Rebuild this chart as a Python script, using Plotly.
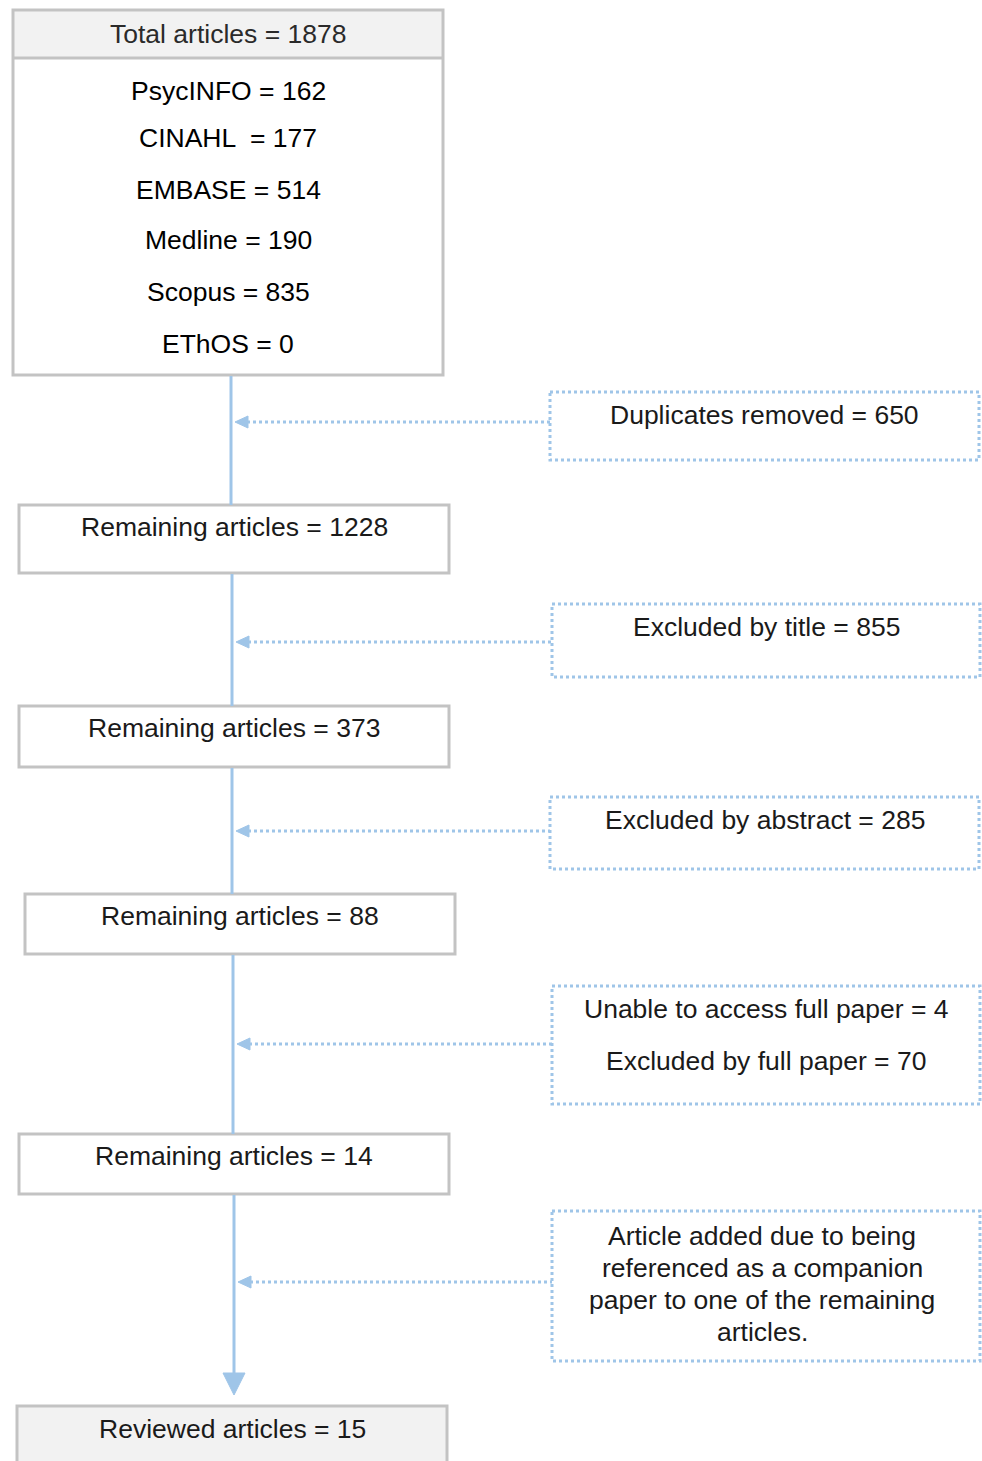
import plotly.graph_objects as go

# ---- data ----
total_articles = 1878
sources = ["PsycINFO", "CINAHL ", "EMBASE", "Medline", "Scopus", "EThOS"]
source_counts = [162, 177, 514, 190, 835, 0]
remaining_counts = [1228, 373, 88, 14]
reviewed_count = 15
exclusion_labels = [
    ["Duplicates removed = 650"],
    ["Excluded by title = 855"],
    ["Excluded by abstract = 285"],
    ["Unable to access full paper = 4", "Excluded by full paper = 70"],
    ["Article added due to being", "referenced as a companion",
     "paper to one of the remaining", "articles."],
]

# ---- layout geometry (pixels) ----
W, H = 982, 1461
GREY = "#c3c3c3"
BLUE = "#9fc5e8"
TXT = "#1a1a1a"
FONT = "Liberation Sans, Arial, sans-serif"
FS = 26.5

top_box = dict(x0=13, x1=443, y0=10, y1=375, head=58)
source_y = [91, 138, 190, 240, 292, 344]
rem_boxes = [(19, 449, 505, 573), (19, 449, 706, 767), (25, 455, 894, 954), (19, 449, 1134, 1194)]
final_box = (17, 447, 1406, 1475)
excl_boxes = [(550, 979, 392, 460), (552, 980, 604, 677), (550, 979, 797, 869),
              (552, 980, 986, 1104), (552, 980, 1211, 1361)]
excl_line_gap = [0, 0, 0, 52, 32]
excl_arrow_y = [422, 642, 831, 1044, 1282]
spine_x = [231, 232, 232, 233, 234]

shapes = []
annotations = []

def text(x, y, s, color=TXT):
    annotations.append(dict(x=x, y=y, xref="x", yref="y", text=s, showarrow=False,
                            font=dict(family=FONT, size=FS, color=color),
                            xanchor="center", yanchor="middle"))

# top box
tb = top_box
shapes.append(dict(type="rect", x0=tb["x0"], x1=tb["x1"], y0=tb["y0"], y1=tb["head"],
                   fillcolor="#f2f2f2", line=dict(width=0), layer="below"))
shapes.append(dict(type="rect", x0=tb["x0"], x1=tb["x1"], y0=tb["y0"], y1=tb["y1"],
                   line=dict(color=GREY, width=3)))
shapes.append(dict(type="line", x0=tb["x0"], x1=tb["x1"], y0=tb["head"], y1=tb["head"],
                   line=dict(color=GREY, width=3)))
cx = (tb["x0"] + tb["x1"]) / 2
text(cx, 34, f"Total articles = {total_articles}", "#2a2a2a")
for name, cnt, y in zip(sources, source_counts, source_y):
    text(cx, y, f"{name} = {cnt}", "#000000")

# remaining boxes
for (x0, x1, y0, y1), cnt in zip(rem_boxes, remaining_counts):
    shapes.append(dict(type="rect", x0=x0, x1=x1, y0=y0, y1=y1, line=dict(color=GREY, width=3)))
    text((x0 + x1) / 2, y0 + 22, f"Remaining articles = {cnt}")

# final box
x0, x1, y0, y1 = final_box
shapes.append(dict(type="rect", x0=x0, x1=x1, y0=y0, y1=y1, fillcolor="#f2f2f2",
                   line=dict(color=GREY, width=3)))
text((x0 + x1) / 2, y0 + 23, f"Reviewed articles = {reviewed_count}")

# spine segments
tops = [tb["y1"]] + [b[3] for b in rem_boxes]
bottoms = [b[2] for b in rem_boxes] + [final_box[2] - 12]
for i, (ya, yb) in enumerate(zip(tops, bottoms)):
    x = spine_x[i]
    end = yb if i < 4 else yb - 16
    shapes.append(dict(type="line", x0=x, x1=x, y0=ya + 1, y1=end, line=dict(color=BLUE, width=3)))
# final arrowhead
xa = spine_x[-1]
ytip = final_box[2] - 11
shapes.append(dict(type="path", path=f"M {xa-11} {ytip-22} L {xa+11} {ytip-22} L {xa} {ytip} Z",
                   fillcolor=BLUE, line=dict(color=BLUE, width=1)))

# exclusion boxes and dotted arrows
for i, ((x0, x1, y0, y1), lines) in enumerate(zip(excl_boxes, exclusion_labels)):
    shapes.append(dict(type="rect", x0=x0, x1=x1, y0=y0, y1=y1,
                       line=dict(color=BLUE, width=3, dash="dot")))
    gap = excl_line_gap[i]
    first = y0 + 23 if len(lines) < 4 else y0 + 25
    for k, s in enumerate(lines):
        text((x0 + x1) / 2 + (0 if len(lines) < 4 else -4), first + k * gap, s)
    ya = excl_arrow_y[i]
    sx = spine_x[i] + 4
    shapes.append(dict(type="line", x0=sx + 12, x1=x0, y0=ya, y1=ya,
                       line=dict(color=BLUE, width=3, dash="dot")))
    shapes.append(dict(type="path", path=f"M {sx} {ya} L {sx+13} {ya-6} L {sx+13} {ya+6} Z",
                       fillcolor=BLUE, line=dict(color=BLUE, width=1)))

fig = go.Figure()
fig.update_layout(
    width=W, height=H, autosize=False,
    margin=dict(l=0, r=0, t=0, b=0),
    paper_bgcolor="white", plot_bgcolor="white",
    xaxis=dict(range=[0, W], visible=False, fixedrange=True),
    yaxis=dict(range=[H, 0], visible=False, fixedrange=True),
    shapes=shapes, annotations=annotations, showlegend=False,
)
fig.write_html("out.html", config={"displayModeBar": False},
               post_script="document.body.style.margin='0px';document.body.style.padding='0px';")
